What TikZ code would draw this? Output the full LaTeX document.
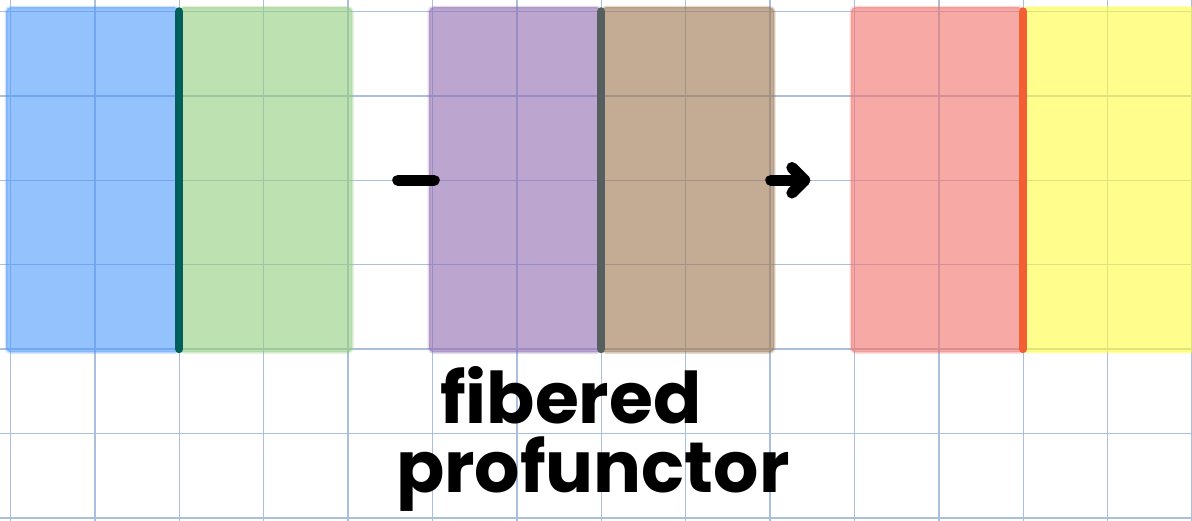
\documentclass[tikz,border=0pt]{standalone}
\usepackage{fontspec}
\newfontfamily\hand{Poppins}
\begin{document}
\begin{tikzpicture}
\definecolor{gridc}{RGB}{170,190,222}
\definecolor{cblue}{RGB}{77,153,250}
\definecolor{cgreen}{RGB}{147,205,127}
\definecolor{cpurple}{RGB}{143,107,177}
\definecolor{cbrown}{RGB}{157,117,77}
\definecolor{cred}{RGB}{242,113,105}
\definecolor{cyellow}{RGB}{255,252,63}
\definecolor{dteal}{RGB}{0,95,90}
\definecolor{dgray}{RGB}{85,95,95}
\definecolor{dorange}{RGB}{242,95,50}
\tikzset{
  panel/.style={fill=#1, fill opacity=0.6, draw=#1, draw opacity=0.25, line width=1pt, rounded corners=1.5pt},
  divider/.style={draw=#1, line width=2.8pt, line cap=round},
  inkstroke/.style={draw=black, line width=3.8pt, line cap=round, line join=round},
  handtext/.style={font=\hand\bfseries\fontsize{24}{28}\selectfont, inner sep=0pt, anchor=base}
}
\useasboundingbox (-0.124,-6.037) rectangle (14.0,0.136);
% grid
\draw[gridc, line width=0.45pt] (-0.2,-6.1) grid (14.1,0.2);
% panels
\path[panel=cblue] (-0.05,0.05) rectangle (2,-4.04);
\path[panel=cgreen] (2,0.05) rectangle (4.05,-4.04);
\path[panel=cpurple] (4.96,0.05) rectangle (7,-4.04);
\path[panel=cbrown] (7,0.05) rectangle (9.05,-4.04);
\path[panel=cred] (9.96,0.05) rectangle (12,-4.04);
\path[panel=cyellow] (12,0.05) rectangle (14.3,-4.04);
% dividers
\coordinate (d1t) at (2,0); \coordinate (d1b) at (2,-4);
\coordinate (d2t) at (7,0); \coordinate (d2b) at (7,-4);
\coordinate (d3t) at (12,0); \coordinate (d3b) at (12,-4);
\draw[divider=dteal] (d1t) -- (d1b);
\draw[divider=dgray] (d2t) -- (d2b);
\draw[divider=dorange] (d3t) -- (d3b);
% minus
\coordinate (m1) at (4.59,-2); \coordinate (m2) at (5.02,-2);
\draw[inkstroke] (m1) -- (m2);
% arrow
\coordinate (a1) at (9.01,-2); \coordinate (a2) at (9.41,-2);
\coordinate (h1) at (9.26,-1.85); \coordinate (h2) at (9.26,-2.15);
\draw[inkstroke] (a1) -- (a2);
\draw[inkstroke] (h1) -- (a2) -- (h2);
% text
\node[handtext] (t1) at (6.64,-4.88) {fibered};
\node[handtext] (t2) at (6.90,-5.70) {profunctor};
\end{tikzpicture}
\end{document}
